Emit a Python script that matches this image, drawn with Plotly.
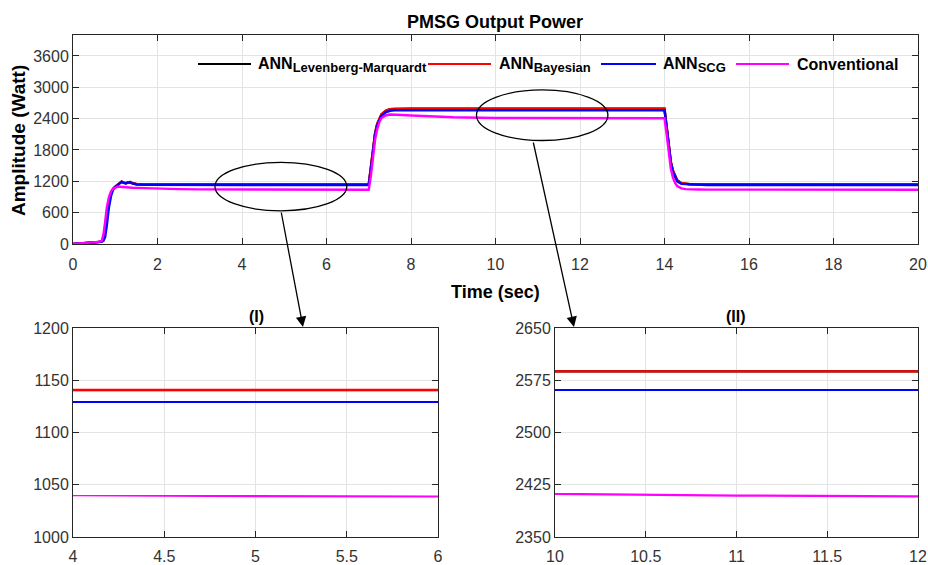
import plotly.graph_objects as go

# ---------------- data ----------------
time_s = [0, 0.3, 0.6, 0.68, 0.72, 0.76, 0.8, 0.85, 0.9, 0.95, 1.0, 1.05, 1.1, 1.15, 1.2,
          1.25, 1.3, 1.35, 1.4, 1.5, 1.7, 2.0, 2.5, 3.0, 4.0, 5.0, 6.0, 7.0, 7.05, 7.1,
          7.15, 7.2, 7.25, 7.3, 7.4, 7.5, 7.6, 7.8, 8.0, 8.5, 9.0, 10.0, 11.0, 12.0, 13.0,
          14.0, 14.05, 14.1, 14.15, 14.2, 14.25, 14.3, 14.4, 14.5, 14.6, 14.8, 15.0, 16.0,
          18.0, 20.0]

ann_lm = [0, 15, 35, 50, 110, 250, 500, 800, 980, 1060, 1100, 1130, 1170, 1195, 1175,
          1165, 1180, 1185, 1165, 1148, 1142, 1141, 1140.7, 1140.7, 1140.6, 1140.6, 1140.6, 1140.6, 1450, 1850,
          2120, 2300, 2410, 2480, 2550, 2578, 2586, 2590, 2589, 2588, 2588, 2587.8, 2587.8, 2587.8, 2587.8,
          2587.8, 2250, 1850, 1570, 1400, 1290, 1220, 1165, 1150, 1143, 1141, 1140.6, 1140.6,
          1140.6, 1140.6]

ann_bayesian = [0, 15, 35, 50, 110, 250, 500, 800, 980, 1060, 1100, 1130, 1170, 1195, 1175,
                1165, 1180, 1185, 1165, 1148, 1142, 1141, 1140.7, 1140.7, 1140.7, 1140.7, 1140.7, 1140.7, 1450, 1850,
                2120, 2300, 2410, 2480, 2550, 2578, 2586, 2590, 2589, 2588, 2588, 2587.8, 2587.8, 2587.8, 2587.8,
                2587.8, 2250, 1850, 1570, 1400, 1290, 1220, 1165, 1150, 1143, 1141, 1140.7, 1140.7,
                1140.7, 1140.7]

ann_scg = [0, 15, 35, 45, 60, 130, 350, 700, 920, 1040, 1090, 1120, 1165, 1190, 1170,
           1160, 1175, 1180, 1160, 1140, 1132, 1130, 1129.3, 1129.2, 1129.2, 1129.2, 1129.2, 1129.2, 1420, 1810,
           2090, 2270, 2380, 2450, 2520, 2550, 2560, 2563, 2562, 2561, 2561, 2561, 2561, 2561, 2561,
           2561, 2230, 1830, 1550, 1380, 1270, 1200, 1150, 1148, 1135, 1130, 1129.2, 1129.2,
           1129.2, 1129.2]

conventional = [0, 15, 40, 60, 180, 420, 700, 900, 1010, 1060, 1085, 1095, 1095, 1090, 1085,
                1082, 1080, 1078, 1077, 1075, 1068, 1060, 1050, 1045, 1040, 1039.2, 1038.6, 1038.3, 1300, 1700,
                2000, 2200, 2330, 2410, 2460, 2478, 2480, 2470, 2460, 2440, 2425, 2412, 2409.5, 2408, 2407,
                2406, 2100, 1720, 1440, 1270, 1170, 1110, 1065, 1050, 1045, 1042, 1040, 1039.5,
                1039, 1039]

series_names = ["ANN<sub>Levenberg-Marquardt</sub>", "ANN<sub>Bayesian</sub>",
                "ANN<sub>SCG</sub>", "Conventional"]
series_values = [ann_lm, ann_bayesian, ann_scg, conventional]
series_colors = ["#000000", "#ff0000", "#0000ff", "#ff00ff"]

main_xticks = [0, 2, 4, 6, 8, 10, 12, 14, 16, 18, 20]
main_yticks = [0, 600, 1200, 1800, 2400, 3000, 3600]
zoom1_xticks = [4, 4.5, 5, 5.5, 6]
zoom1_yticks = [1000, 1050, 1100, 1150, 1200]
zoom2_xticks = [10, 10.5, 11, 11.5, 12]
zoom2_yticks = [2350, 2425, 2500, 2575, 2650]

# ---------------- layout helpers ----------------
W, H = 928, 565
def px(x):
    return x / W
def py(y):
    return 1 - y / H

FONT = "Liberation Sans, Arial, Helvetica, sans-serif"
AX = "#262626"
GRID = "#e3e3e3"

fig = go.Figure()

axes = [("x", "y", 2.4), ("x2", "y2", 2.2), ("x3", "y3", 2.2)]
for xa, ya, lw in axes:
    for name, vals, col in zip(series_names, series_values, series_colors):
        fig.add_trace(go.Scatter(x=time_s, y=vals, mode="lines", name=name,
                                 line=dict(color=col, width=lw), xaxis=xa, yaxis=ya,
                                 showlegend=False, hoverinfo="skip"))

def axis_style(domain, rng, ticks, anchor, standoff=0):
    d = dict(domain=domain, range=rng, tickvals=ticks, anchor=anchor,
             showline=True, linecolor=AX, linewidth=1, mirror="allticks",
             ticks="inside", ticklen=6, tickcolor=AX, showgrid=True,
             gridcolor=GRID, gridwidth=1, zeroline=False,
             tickfont=dict(family=FONT, size=16, color="#333333"),
             automargin=False, fixedrange=True)
    if standoff:
        d["ticklabelstandoff"] = standoff
    return d

fig.update_layout(
    width=W, height=H, margin=dict(l=0, r=0, t=0, b=0),
    paper_bgcolor="white", plot_bgcolor="white", showlegend=False,
    xaxis=axis_style([px(73), px(918)], [0, 20], main_xticks, "y", 6),
    yaxis=axis_style([py(244), py(35)], [0, 4000], main_yticks, "x"),
    xaxis2=axis_style([px(73), px(438)], [4, 6], zoom1_xticks, "y2", 5),
    yaxis2=axis_style([py(537), py(328)], [1000, 1200], zoom1_yticks, "x2"),
    xaxis3=axis_style([px(555), px(918)], [10, 12], zoom2_xticks, "y3", 5),
    yaxis3=axis_style([py(537), py(328)], [2350, 2650], zoom2_yticks, "x3"),
)

annotations = []
def text(x, y, s, size, angle=0, xanchor="center"):
    annotations.append(dict(x=px(x), y=py(y), xref="paper", yref="paper", text=s,
                            showarrow=False, textangle=angle, xanchor=xanchor,
                            yanchor="middle",
                            font=dict(family=FONT, size=size, color="#000000")))

text(495, 22, "<b>PMSG Output Power</b>", 18)
text(496, 292, "<b>Time (sec)</b>", 18)
text(18, 141, "<b>Amplitude (Watt)</b>", 19, angle=-90)
text(256, 316, "<b>(I)</b>", 16)
text(736, 316, "<b>(II)</b>", 16)

# legend (manual)
legend_labels = ["<b>ANN<sub><span style='font-size:13px'>Levenberg-Marquardt</span></sub></b>",
                 "<b>ANN<sub><span style='font-size:13px'>Bayesian</span></sub></b>",
                 "<b>ANN<sub><span style='font-size:13px'>SCG</span></sub></b>",
                 "<b>Conventional</b>"]
legend_items = [(198, 251, 256), (428, 491, 497), (601, 656, 661), (736, 789, 795)]
shapes = []
for (x0, x1, tx), name, col in zip(legend_items, legend_labels, series_colors):
    shapes.append(dict(type="line", xref="paper", yref="paper", x0=px(x0), x1=px(x1),
                       y0=py(64), y1=py(64), line=dict(color=col, width=2)))
    text(tx, 65, name, 16, xanchor="left")

# ellipses around zoomed regions (data coords)
shapes.append(dict(type="circle", xref="x", yref="y", x0=3.36, x1=6.48, y0=635, y1=1563,
                   line=dict(color="#000000", width=1.3)))
shapes.append(dict(type="circle", xref="x", yref="y", x0=9.55, x1=12.66, y0=1981, y1=2948,
                   line=dict(color="#000000", width=1.3)))

# arrows
for tip, tail in [((303, 327), (281, 211)), ((574, 327), (533, 141))]:
    annotations.append(dict(x=px(tip[0]), y=py(tip[1]), xref="paper", yref="paper",
                            ax=tail[0] - tip[0], ay=tail[1] - tip[1], text="",
                            showarrow=True, arrowhead=2, arrowsize=1.6, arrowwidth=1.3,
                            arrowcolor="#000000"))

fig.update_layout(shapes=shapes, annotations=annotations)
fig.write_html("out.html")
